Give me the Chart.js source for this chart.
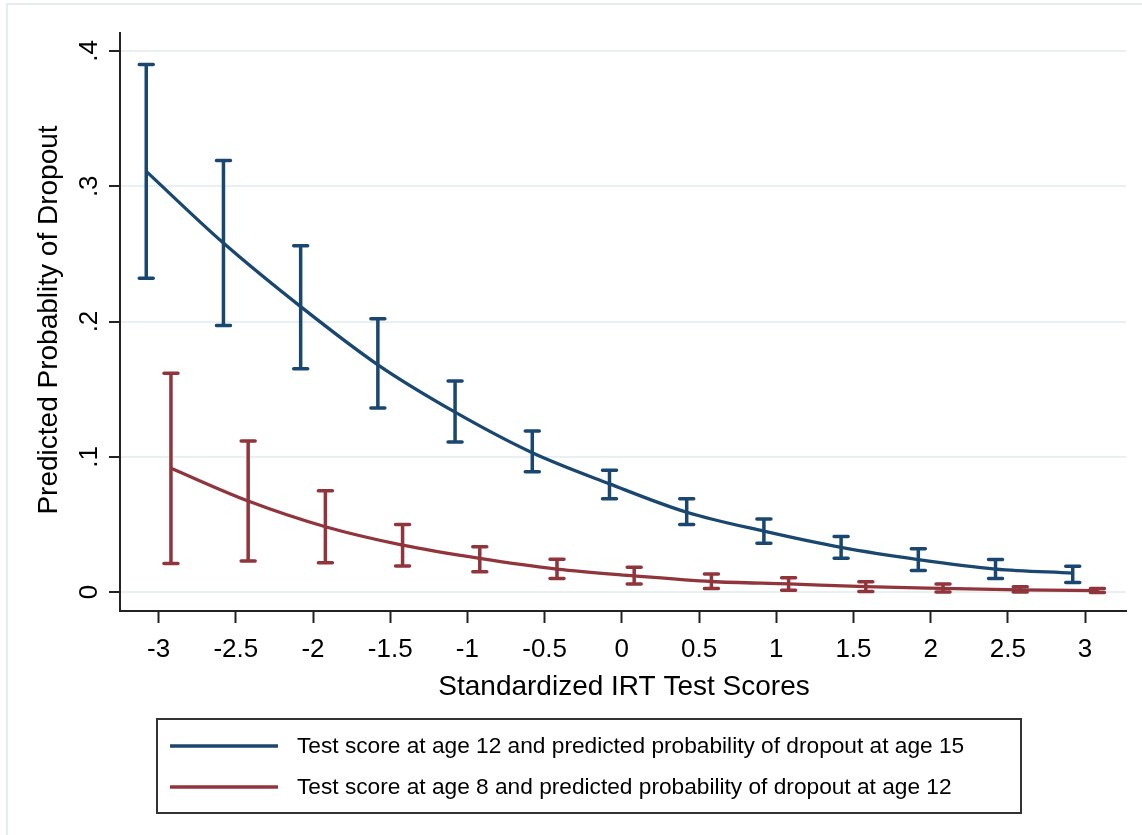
<!DOCTYPE html>
<html>
<head>
<meta charset="utf-8">
<script src="https://cdn.jsdelivr.net/npm/chart.js@4/dist/chart.umd.min.js"></script>
<style>
  html, body { margin: 0; padding: 0; background: #fff; }
  canvas { display: block; }
</style>
</head>
<body>
<canvas id="c" width="1142" height="835"></canvas>
<script>
// tick labels
const xTicks = [-3, -2.5, -2, -1.5, -1, -0.5, 0, 0.5, 1, 1.5, 2, 2.5, 3];
const xTickLabels = ['-3', '-2.5', '-2', '-1.5', '-1', '-0.5', '0', '0.5', '1', '1.5', '2', '2.5', '3'];
const yTicks = [0, 0.1, 0.2, 0.3, 0.4];
const yTickLabels = ['0', '.1', '.2', '.3', '.4'];

// age 12 -> dropout at 15 (blue), points shifted slightly left
const blueX = [-3.08, -2.58, -2.08, -1.58, -1.08, -0.58, -0.08, 0.42, 0.92, 1.42, 1.92, 2.42, 2.92];
const blueMean = [0.311, 0.258, 0.211, 0.168, 0.133, 0.103, 0.080, 0.059, 0.045, 0.033, 0.024, 0.017, 0.014];
const blueLo = [0.232, 0.197, 0.165, 0.136, 0.111, 0.089, 0.069, 0.050, 0.036, 0.025, 0.016, 0.010, 0.007];
const blueHi = [0.390, 0.319, 0.256, 0.202, 0.156, 0.119, 0.090, 0.069, 0.054, 0.041, 0.032, 0.024, 0.019];

// age 8 -> dropout at 12 (red), points shifted slightly right
const redX = [-2.92, -2.42, -1.92, -1.42, -0.92, -0.42, 0.08, 0.58, 1.08, 1.58, 2.08, 2.58, 3.08];
const redMean = [0.0915, 0.0673, 0.0483, 0.0347, 0.0249, 0.0170, 0.0120, 0.0078, 0.0060, 0.0040, 0.0027, 0.0016, 0.0011];
const redLo = [0.0212, 0.0229, 0.0217, 0.0192, 0.0150, 0.0101, 0.0059, 0.0027, 0.0013, 0.0004, 0.0001, 0.0000, -0.0003];
const redHi = [0.1617, 0.1116, 0.0749, 0.0500, 0.0335, 0.0242, 0.0183, 0.0133, 0.0105, 0.0076, 0.0059, 0.0039, 0.0027];

const BLUE = '#1a476f';
const RED = '#90353b';
const FONT = '"Liberation Sans", Arial, sans-serif';

function pts(xs, ys) {
  return xs.map((x, i) => ({ x: x, y: ys[i] }));
}

const errorBars = {
  id: 'errorBars',
  afterDatasetsDraw(chart) {
    const { ctx, scales: { x, y } } = chart;
    chart.data.datasets.forEach(ds => {
      ctx.save();
      ctx.strokeStyle = ds.borderColor;
      ctx.lineWidth = 3.5;
      ctx.lineCap = 'round';
      ds.xs.forEach((xv, i) => {
        const px = x.getPixelForValue(xv);
        const lo = y.getPixelForValue(ds.lo[i]);
        const hi = y.getPixelForValue(ds.hi[i]);
        ctx.beginPath();
        ctx.moveTo(px, lo); ctx.lineTo(px, hi);
        ctx.moveTo(px - 7, lo); ctx.lineTo(px + 7, lo);
        ctx.moveTo(px - 7, hi); ctx.lineTo(px + 7, hi);
        ctx.stroke();
      });
      ctx.restore();
    });
  }
};

const decor = {
  id: 'decor',
  beforeDraw(chart) {
    const ctx = chart.ctx;
    ctx.save();
    ctx.fillStyle = '#fff';
    ctx.fillRect(0, 0, chart.width, chart.height);
    ctx.strokeStyle = '#e4eeee';
    ctx.lineWidth = 2;
    ctx.strokeRect(7, 4, 1200, 900);
    ctx.restore();
  },
  afterDraw(chart) {
    const { ctx, scales: { x, y } } = chart;
    ctx.save();
    ctx.fillStyle = '#000';
    // x tick labels
    ctx.font = '26px ' + FONT;
    ctx.textAlign = 'center';
    ctx.textBaseline = 'alphabetic';
    xTicks.forEach((v, i) => {
      ctx.fillText(xTickLabels[i], x.getPixelForValue(v), 657);
    });
    // y tick labels, rotated
    yTicks.forEach((v, i) => {
      ctx.save();
      ctx.translate(97, y.getPixelForValue(v));
      ctx.rotate(-Math.PI / 2);
      ctx.textAlign = 'center';
      ctx.fillText(yTickLabels[i], 0, 0);
      ctx.restore();
    });
    // axis titles
    ctx.font = '28px ' + FONT;
    ctx.textAlign = 'center';
    ctx.fillText('Standardized IRT Test Scores', (x.left + x.right) / 2 + 1, 695);
    ctx.save();
    ctx.translate(57, (y.top + y.bottom) / 2 - 2);
    ctx.rotate(-Math.PI / 2);
    ctx.fillText('Predicted Probablity of Dropout', 0, 0);
    ctx.restore();

    // legend box
    ctx.strokeStyle = '#333';
    ctx.lineWidth = 2;
    ctx.strokeRect(157, 719, 864, 94);
    ctx.font = '22.7px ' + FONT;
    ctx.textAlign = 'left';
    ctx.textBaseline = 'middle';
    chart.data.datasets.forEach((ds, i) => {
      const ly = 746 + i * 41;
      ctx.strokeStyle = ds.borderColor;
      ctx.lineWidth = 3.3;
      ctx.beginPath();
      ctx.moveTo(170, ly); ctx.lineTo(278, ly);
      ctx.stroke();
      ctx.fillStyle = '#000';
      ctx.fillText(ds.label, 297, ly + 1);
    });
    ctx.restore();
  }
};

new Chart(document.getElementById('c'), {
  type: 'line',
  data: {
    datasets: [
      {
        label: 'Test score at age 12 and predicted probability of dropout at age 15',
        data: pts(blueX, blueMean),
        xs: blueX, lo: blueLo, hi: blueHi,
        borderColor: BLUE,
        borderWidth: 3.3,
        pointRadius: 0,
        cubicInterpolationMode: 'monotone',
        fill: false
      },
      {
        label: 'Test score at age 8 and predicted probability of dropout at age 12',
        data: pts(redX, redMean),
        xs: redX, lo: redLo, hi: redHi,
        borderColor: RED,
        borderWidth: 3.3,
        pointRadius: 0,
        cubicInterpolationMode: 'monotone',
        fill: false
      }
    ]
  },
  options: {
    responsive: false,
    animation: false,
    events: [],
    layout: { padding: { left: 109, right: 16, top: 33, bottom: 212 } },
    plugins: { legend: { display: false }, tooltip: { enabled: false } },
    scales: {
      x: {
        type: 'linear',
        min: -3.25,
        max: 3.265,
        afterBuildTicks: s => { s.ticks = xTicks.map(v => ({ value: v })); },
        ticks: { display: false },
        grid: {
          display: true,
          drawOnChartArea: false,
          drawTicks: true,
          tickLength: 12,
          tickColor: '#222',
          tickWidth: 2
        },
        border: { display: true, color: '#222', width: 2 }
      },
      y: {
        type: 'linear',
        min: -0.014,
        max: 0.4133,
        afterBuildTicks: s => { s.ticks = yTicks.map(v => ({ value: v })); },
        ticks: { display: false },
        grid: {
          display: true,
          drawOnChartArea: true,
          color: '#e8f0f1',
          lineWidth: 2,
          drawTicks: true,
          tickLength: 11,
          tickColor: '#222',
          tickWidth: 2
        },
        border: { display: true, color: '#222', width: 2 }
      }
    }
  },
  plugins: [decor, errorBars]
});
</script>
</body>
</html>
